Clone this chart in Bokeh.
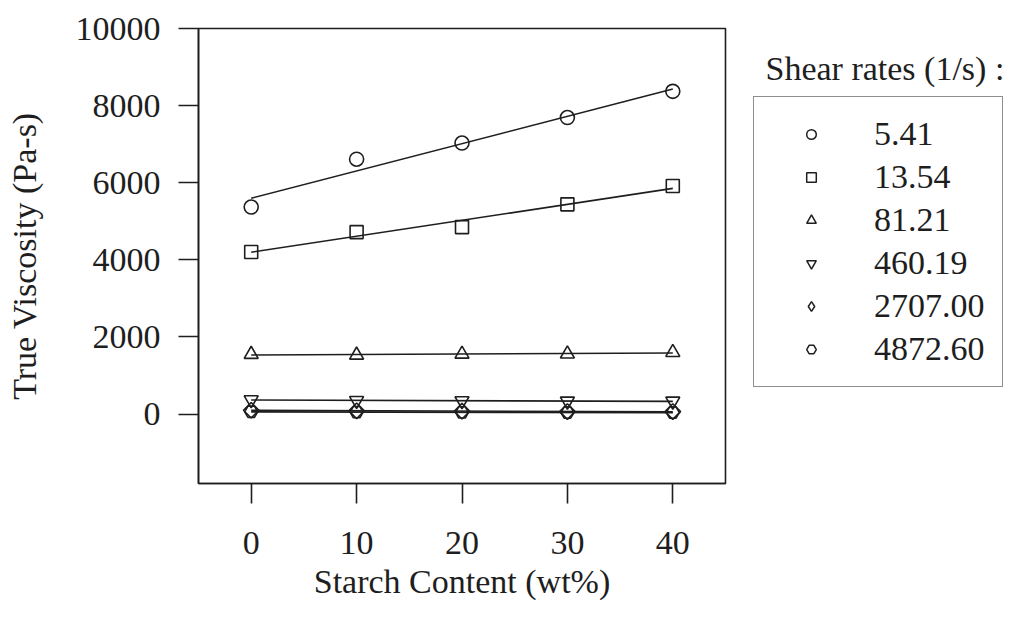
import numpy as np
from bokeh.plotting import figure
from bokeh.layouts import row
from bokeh.models import Legend, LegendItem, Label, Range1d, FixedTicker
from bokeh.embed import file_html
from bokeh.resources import INLINE

# ---- data ----
starch = [0, 10, 20, 30, 40]
shear_labels = ["5.41", "13.54", "81.21", "460.19", "2707.00", "4872.60"]
visc_5_41 = [5370, 6610, 7030, 7690, 8370]
visc_13_54 = [4205, 4720, 4850, 5440, 5915]
visc_81_21 = [1550, 1530, 1555, 1560, 1600]
visc_460_19 = [370, 350, 345, 335, 335]
visc_2707_00 = [100, 85, 75, 65, 65]
visc_4872_60 = [60, 50, 45, 40, 40]
x_ticks = [0, 10, 20, 30, 40]
y_ticks = [0, 2000, 4000, 6000, 8000, 10000]

series = [visc_5_41, visc_13_54, visc_81_21, visc_460_19, visc_2707_00, visc_4872_60]
plot_markers = ["circle", "square", "triangle", "inverted_triangle", "square", "hex"]
legend_markers = ["circle", "square", "triangle", "inverted_triangle", "diamond", "hex"]
angles = [0, 0, 0, 0, np.pi / 4, 0]
sizes = [14, 13, 14, 14, 11, 13]

FONT = "Liberation Serif"
INK = "#1e1e1e"
TOP, FH, BOT = 28, 455, 122

# ---------------- main plot ----------------
p = figure(frame_width=527, frame_height=FH,
           min_border_left=198, min_border_top=TOP, min_border_bottom=BOT, min_border_right=2,
           x_range=Range1d(-5, 45), y_range=Range1d(-1800, 10000),
           output_backend="svg", toolbar_location=None)
p.background_fill_color = "white"
p.border_fill_color = "white"
p.xgrid.visible = False
p.ygrid.visible = False
p.outline_line_color = INK
p.outline_line_width = 1.6
p.outline_line_alpha = 1.0

for ax in (p.xaxis[0], p.yaxis[0]):
    ax.major_tick_out = 20
    ax.major_tick_in = 0
    ax.minor_tick_out = 0
    ax.minor_tick_in = 0
    ax.axis_line_color = INK
    ax.axis_line_width = 1.6
    ax.major_tick_line_color = INK
    ax.major_tick_line_width = 1.6
    ax.major_label_text_font = FONT
    ax.major_label_text_font_size = "34px"
    ax.major_label_text_color = INK
    ax.axis_label_text_font = FONT
    ax.axis_label_text_font_size = "34px"
    ax.axis_label_text_font_style = "normal"
    ax.axis_label_text_color = INK

p.xaxis.ticker = FixedTicker(ticks=x_ticks)
p.yaxis.ticker = FixedTicker(ticks=y_ticks)
p.xaxis.axis_label = "Starch Content (wt%)"
p.yaxis.axis_label = "True Viscosity (Pa-s)"
p.xaxis.major_label_standoff = 28
p.yaxis.major_label_standoff = 18
p.xaxis.axis_label_standoff = 6
p.yaxis.axis_label_standoff = 30

xs = np.array(starch, dtype=float)
for vals, mk, ang, sz in zip(series, plot_markers, angles, sizes):
    ys = np.array(vals, dtype=float)
    k, b = np.polyfit(xs, ys, 1)
    p.line([xs[0], xs[-1]], [k * xs[0] + b, k * xs[-1] + b], line_color=INK, line_width=1.6)
    p.scatter(starch, vals, marker=mk, angle=ang, size=sz, fill_alpha=0,
              line_color=INK, line_width=1.6)

# ---------------- legend panel (coordinates = page pixels) ----------------
LX0 = 727
LW = 280
q = figure(frame_width=LW, frame_height=FH,
           min_border_left=0, min_border_right=0, min_border_top=TOP, min_border_bottom=BOT,
           x_range=Range1d(LX0, LX0 + LW), y_range=Range1d(TOP + FH, TOP),
           x_axis_type=None, y_axis_type=None,
           output_backend="svg", toolbar_location=None)
q.xgrid.visible = False
q.ygrid.visible = False
q.outline_line_color = None
q.background_fill_color = "white"
q.border_fill_color = "white"

items = []
for lab, mk in zip(shear_labels, legend_markers):
    # legend swatches only: one point placed outside the visible range
    r = q.scatter(x=[-1000], y=[-1000], marker=mk, size=10, fill_alpha=0,
                  line_color=INK, line_width=1.5)
    items.append(LegendItem(label=lab, renderers=[r]))

legend = Legend(items=items, location=(753 - LX0, TOP + FH - 387), orientation="vertical",
                label_text_font=FONT, label_text_font_size="34px", label_text_color=INK,
                glyph_width=80, glyph_height=24, label_height=40, label_standoff=23,
                spacing=3, padding=17, margin=0,
                border_line_color=INK, border_line_width=1.6,
                background_fill_alpha=1.0)
q.add_layout(legend)

q.add_layout(Label(x=765, y=68, text="Shear rates (1/s) :", text_font=FONT,
                   text_font_size="34px", text_color=INK, text_baseline="alphabetic"))

layout = row(p, q)
open("out.html", "w").write(file_html(layout, INLINE))
